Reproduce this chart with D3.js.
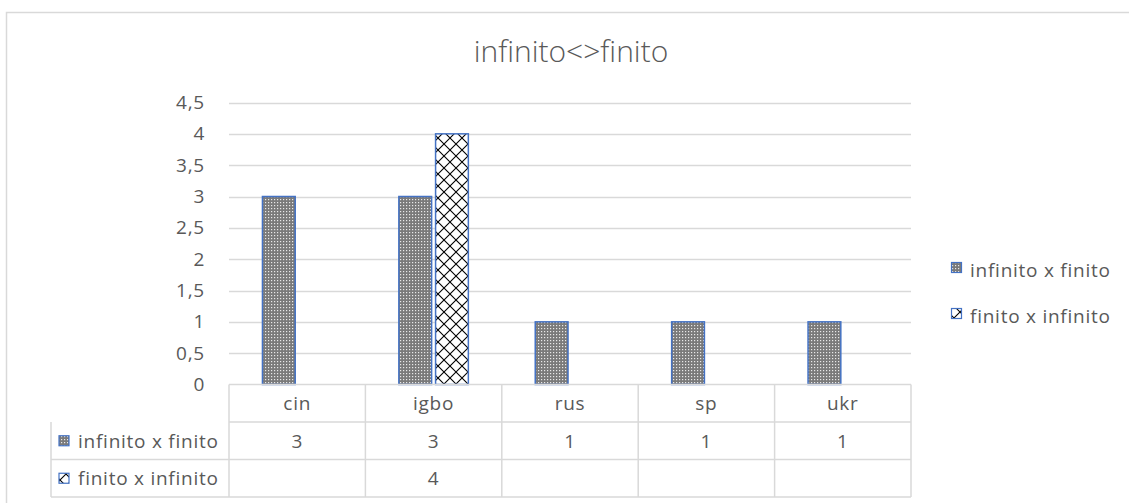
<!DOCTYPE html>
<html>
<head>
<meta charset="utf-8">
<script src="https://cdn.jsdelivr.net/npm/d3@7"></script>
<style>
  html, body { margin: 0; padding: 0; background: #fff; }
  svg { display: block; }
  text { font-family: "Open Sans", "Noto Sans", sans-serif; fill: #595959; }
  .lbl { font-size: 19px; letter-spacing: 0.75px; }
</style>
</head>
<body>
<svg id="chart" width="1129" height="503"></svg>
<script>
// Chart data
const categories = ["cin", "igbo", "rus", "sp", "ukr"];
const seriesNames = ["infinito x finito", "finito x infinito"];
const infinitoXFinito = [3, 3, 1, 1, 1];
const finitoXInfinito = [null, 4, null, null, null];
const yTicks = [0, 0.5, 1, 1.5, 2, 2.5, 3, 3.5, 4, 4.5];
const chartTitle = "infinito<>finito";

const seriesValues = [infinitoXFinito, finitoXInfinito];

const svg = d3.select("#chart");
const W = 1129, H = 503;
const plot = { left: 229, right: 911, top: 102.5, bottom: 384.5 };
const rowH = 37.5;
const tableLeft = 51;
const gridColor = "#d9d9d9";
const fmt = v => String(v).replace(".", ",");

// Fill patterns for the two series
const defs = svg.append("defs");
const pDots = defs.append("pattern").attr("id", "pat-dots")
  .attr("patternUnits", "userSpaceOnUse").attr("width", 3).attr("height", 3);
pDots.append("rect").attr("width", 3).attr("height", 3).attr("fill", "#7a7a7a");
pDots.append("rect").attr("x", 1).attr("y", 1).attr("width", 1.2).attr("height", 1.2).attr("fill", "#e8e8e8");

const pHatch = defs.append("pattern").attr("id", "pat-hatch")
  .attr("patternUnits", "userSpaceOnUse").attr("width", 12).attr("height", 12);
pHatch.append("rect").attr("width", 12).attr("height", 12).attr("fill", "#fff");
pHatch.append("path").attr("d", "M0,0L12,12M12,0L0,12")
  .attr("stroke", "#000").attr("stroke-width", 1.1).attr("fill", "none");

const fills = ["url(#pat-dots)", "url(#pat-hatch)"];

// Outer chart frame (top and left edges)
svg.append("path")
  .attr("d", `M6.5,${H}V12.5H${W}`)
  .attr("fill", "none").attr("stroke", gridColor).attr("stroke-width", 1.5);

// Title
svg.append("text").attr("x", 571).attr("y", 62)
  .attr("text-anchor", "middle").attr("font-size", 30).attr("font-weight", 300)
  .text(chartTitle);

// Scales
const x = d3.scaleBand().domain(categories).range([plot.left, plot.right]);
const y = d3.scaleLinear().domain([0, 4.5]).range([plot.bottom, plot.top]);

// Horizontal gridlines
svg.append("g").selectAll("line").data(yTicks.filter(t => t > 0)).join("line")
  .attr("x1", plot.left).attr("x2", plot.right)
  .attr("y1", d => Math.round(y(d)) + 0.5).attr("y2", d => Math.round(y(d)) + 0.5)
  .attr("stroke", gridColor).attr("stroke-width", 1.5);

// Y axis labels
const yAxis = d3.axisLeft(y).tickValues(yTicks).tickFormat(fmt).tickSize(0).tickPadding(0);
const gy = svg.append("g").attr("transform", `translate(${205},0)`).call(yAxis);
gy.select(".domain").remove();
gy.selectAll("text").attr("class", "lbl").attr("font-size", null).attr("fill", "#595959")
  .style("font-family", '"Open Sans", "Noto Sans", sans-serif');

// Bars
const barW = 31, barGap = 7.5;
const inner = d3.scaleBand().domain([0, 1]).range([0, barW * 2 + barGap]).paddingInner(barGap / (barW * 2 + barGap));
const groupOffset = (x.bandwidth() - (barW * 2 + barGap)) / 2;
seriesValues.forEach((vals, si) => {
  svg.append("g").selectAll("rect")
    .data(categories.map((c, i) => ({ c, v: vals[i] })).filter(d => d.v != null))
    .join("rect")
    .attr("x", d => x(d.c) + groupOffset + inner(si))
    .attr("width", inner.bandwidth())
    .attr("y", d => y(d.v))
    .attr("height", d => y(0) - y(d.v))
    .attr("fill", fills[si])
    .attr("stroke", "#4472c4").attr("stroke-width", 1.5);
});

// Data table below the plot
const table = svg.append("g").attr("stroke", gridColor).attr("stroke-width", 1.5).attr("fill", "none");
const tTop = plot.bottom;
table.append("line").attr("x1", plot.left).attr("x2", plot.right).attr("y1", tTop).attr("y2", tTop);
for (let r = 1; r <= 3; r++) {
  table.append("line").attr("x1", r === 1 ? plot.left : tableLeft).attr("x2", plot.right)
    .attr("y1", tTop + r * rowH).attr("y2", tTop + r * rowH);
}
table.append("line").attr("x1", tableLeft).attr("x2", tableLeft).attr("y1", tTop + rowH).attr("y2", tTop + 3 * rowH);
[...categories.map(c => x(c)), plot.right].forEach(xx => {
  table.append("line").attr("x1", xx).attr("x2", xx).attr("y1", tTop).attr("y2", tTop + 3 * rowH);
});

svg.append("g").selectAll("text").data(categories).join("text")
  .attr("class", "lbl")
  .attr("x", d => x(d) + x.bandwidth() / 2).attr("y", tTop + rowH / 2 + 7)
  .attr("text-anchor", "middle").text(d => d);

seriesValues.forEach((vals, si) => {
  const rowY = tTop + (si + 1) * rowH;
  svg.append("g").selectAll("text").data(categories.map((c, i) => ({ c, v: vals[i] })).filter(d => d.v != null))
    .join("text")
    .attr("class", "lbl")
    .attr("x", d => x(d.c) + x.bandwidth() / 2).attr("y", rowY + rowH / 2 + 7)
    .attr("text-anchor", "middle").text(d => fmt(d.v));
  // row key
  svg.append("rect").attr("x", 59).attr("y", rowY + rowH / 2 - 5).attr("width", 10).attr("height", 10)
    .attr("fill", fills[si]).attr("stroke", "#4472c4").attr("stroke-width", 1.2);
  svg.append("text").attr("class", "lbl").attr("x", 78).attr("y", rowY + rowH / 2 + 7).text(seriesNames[si]);
});

// Legend on the right
seriesNames.forEach((name, si) => {
  const ly = 267.5 + si * 46;
  svg.append("rect").attr("x", 951.5).attr("y", ly - 5).attr("width", 10).attr("height", 10)
    .attr("fill", fills[si]).attr("stroke", "#4472c4").attr("stroke-width", 1.2);
  svg.append("text").attr("class", "lbl").attr("x", 970).attr("y", ly + 9).text(name);
});
</script>
</body>
</html>
